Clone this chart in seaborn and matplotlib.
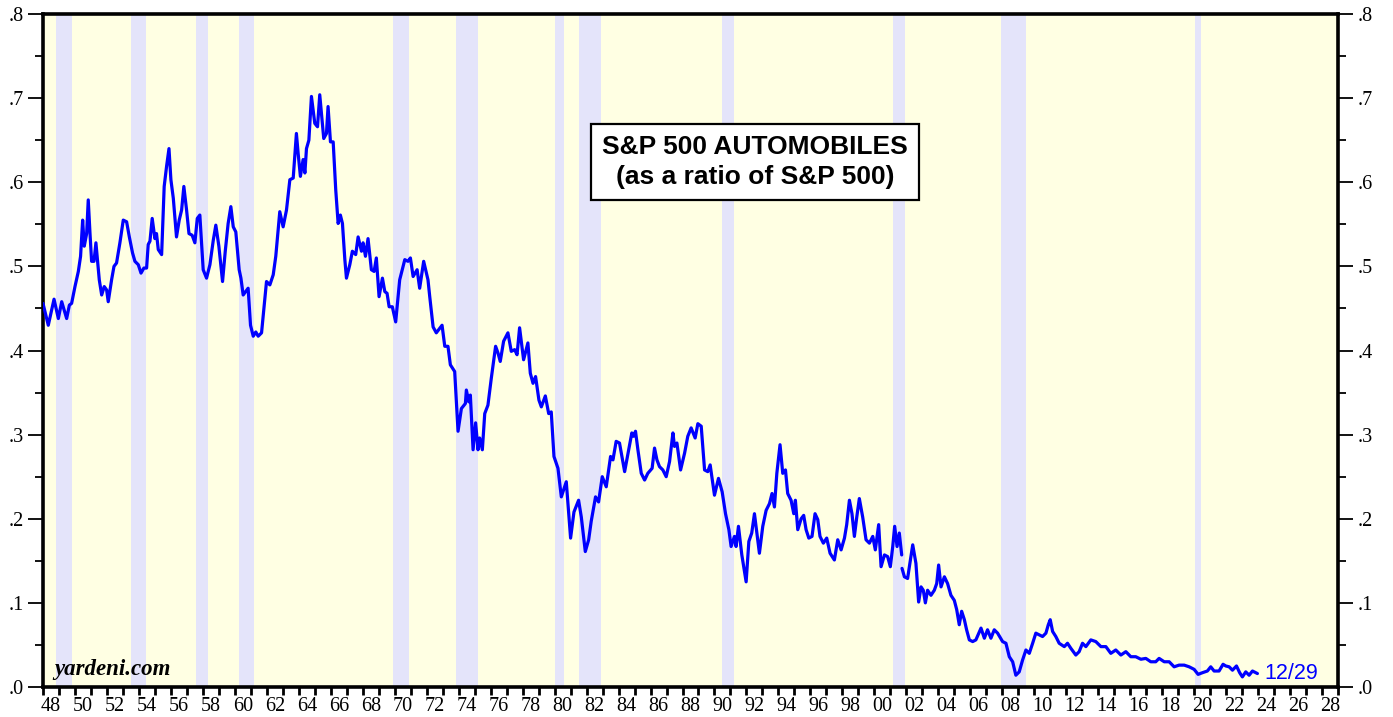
import numpy as np
import pandas as pd
import matplotlib
matplotlib.use('Agg')
import matplotlib.pyplot as plt
import seaborn as sns

# S&P 500 Automobiles / S&P 500 (decimal years)
year = [
    1948.00, 1948.33, 1948.54, 1948.69, 1948.96, 1949.17, 1949.48, 1949.65, 1949.79, 1950.00,
    1950.21, 1950.35, 1950.48, 1950.58, 1950.73, 1950.83, 1950.94, 1951.04, 1951.19, 1951.31,
    1951.52, 1951.67, 1951.83, 1951.98, 1952.08, 1952.29, 1952.44, 1952.60, 1952.81, 1953.02,
    1953.23, 1953.40, 1953.60, 1953.75, 1953.96, 1954.13, 1954.31, 1954.48, 1954.58, 1954.69,
    1954.83, 1955.00, 1955.10, 1955.21, 1955.42, 1955.58, 1955.73, 1955.88, 1956.00, 1956.15,
    1956.35, 1956.52, 1956.67, 1956.81, 1956.98, 1957.13, 1957.33, 1957.50, 1957.65, 1957.81,
    1958.02, 1958.23, 1958.44, 1958.65, 1958.81, 1959.00, 1959.23, 1959.40, 1959.58, 1959.75,
    1959.90, 1960.06, 1960.27, 1960.38, 1960.52, 1960.83, 1960.98, 1961.15, 1961.31, 1961.46,
    1961.67, 1961.81, 1961.98, 1962.19, 1962.40, 1962.56,
    1962.81, 1963.02, 1963.23, 1963.44, 1963.65, 1963.85, 1963.96, 1964.10, 1964.27, 1964.38,
    1964.48, 1964.63, 1964.79, 1965.00, 1965.17, 1965.31, 1965.56, 1965.73, 1965.83, 1965.98,
    1966.15, 1966.31, 1966.46, 1966.60, 1966.73, 1966.88, 1966.98, 1967.19, 1967.35, 1967.56,
    1967.71, 1967.92, 1968.02, 1968.17, 1968.33, 1968.54, 1968.71, 1968.85, 1969.02, 1969.23,
    1969.38, 1969.52, 1969.65, 1969.85, 1970.06, 1970.31, 1970.63, 1970.83, 1970.98, 1971.15,
    1971.40, 1971.56, 1971.81, 1972.08, 1972.19, 1972.40, 1972.60, 1972.96, 1973.13, 1973.33,
    1973.48, 1973.75, 1973.96, 1974.17, 1974.42, 1974.48, 1974.63, 1974.73, 1974.90, 1975.06,
    1975.21, 1975.31, 1975.48, 1975.63, 1975.83, 1976.04, 1976.31, 1976.46, 1976.60, 1976.81,
    1977.08, 1977.29, 1977.50, 1977.65,
    1977.81, 1978.06, 1978.33, 1978.48, 1978.65, 1978.81, 1979.02, 1979.17, 1979.42, 1979.63,
    1979.79, 1979.96, 1980.21, 1980.42, 1980.73, 1981.00, 1981.21, 1981.50, 1981.67, 1981.92,
    1982.13, 1982.29, 1982.56, 1982.75, 1982.98, 1983.23, 1983.50, 1983.65, 1983.85, 1984.06,
    1984.38, 1984.69, 1984.83, 1984.94, 1985.06, 1985.21, 1985.42, 1985.63, 1985.83, 1986.10,
    1986.25, 1986.40, 1986.56, 1986.77, 1986.98, 1987.19, 1987.40, 1987.50, 1987.65, 1987.88,
    1988.13, 1988.33, 1988.54, 1988.79, 1988.96, 1989.17, 1989.38, 1989.58, 1989.73, 1990.00,
    1990.25, 1990.48, 1990.69, 1990.90, 1991.04, 1991.25, 1991.35, 1991.50, 1991.71, 1991.98,
    1992.15, 1992.33, 1992.50, 1992.65,
    1992.81, 1993.02, 1993.23, 1993.44, 1993.60, 1993.75, 1993.90, 1994.10, 1994.27, 1994.44,
    1994.58, 1994.79, 1994.96, 1995.06, 1995.21, 1995.42, 1995.58, 1995.73, 1995.90, 1996.10,
    1996.29, 1996.46, 1996.60, 1996.81, 1997.02, 1997.23, 1997.50, 1997.71, 1997.92, 1998.13,
    1998.27, 1998.44, 1998.60, 1998.75, 1998.90, 1999.06, 1999.27, 1999.48, 1999.69, 1999.90,
    2000.06, 2000.27, 2000.42, 2000.63, 2000.83, 2001.00, 2001.15, 2001.27, 2001.42, 2001.56,
    2001.71, 2001.72,
    2001.73, 2001.88, 2002.08, 2002.19, 2002.40, 2002.60, 2002.77, 2002.92, 2003.06, 2003.19,
    2003.33, 2003.54, 2003.75, 2003.90, 2004.02, 2004.17, 2004.38, 2004.58, 2004.79, 2005.00,
    2005.15, 2005.31, 2005.46, 2005.63, 2005.77, 2005.94, 2006.15, 2006.35, 2006.67, 2006.88,
    2007.08, 2007.29, 2007.50, 2007.71,
    2008.02, 2008.23, 2008.44, 2008.65, 2008.85, 2009.06, 2009.27, 2009.48, 2009.69, 2009.90,
    2010.10, 2010.31, 2010.52, 2010.73, 2010.88, 2011.00, 2011.15, 2011.35, 2011.56, 2011.88,
    2012.08, 2012.29, 2012.60, 2012.81, 2013.02, 2013.23, 2013.54, 2013.85, 2014.17, 2014.48,
    2014.79, 2015.10, 2015.42, 2015.73, 2016.04, 2016.35, 2016.67, 2016.98, 2017.29, 2017.60,
    2017.81, 2018.13, 2018.44, 2018.75, 2019.06, 2019.38, 2019.69, 2020.00, 2020.25, 2020.52,
    2020.83, 2021.04, 2021.25, 2021.56, 2021.81, 2021.98, 2022.19, 2022.40, 2022.65, 2022.85,
    2023.02, 2023.23, 2023.44, 2023.65, 2023.96,
]
ratio = [
    0.456, 0.430, 0.448, 0.461, 0.438, 0.458, 0.438, 0.454, 0.456, 0.476,
    0.494, 0.512, 0.555, 0.524, 0.539, 0.579, 0.539, 0.506, 0.506, 0.528,
    0.484, 0.466, 0.476, 0.472, 0.458, 0.484, 0.500, 0.504, 0.528, 0.555,
    0.553, 0.535, 0.516, 0.506, 0.502, 0.492, 0.498, 0.498, 0.526, 0.530,
    0.557, 0.533, 0.539, 0.520, 0.514, 0.595, 0.619, 0.640, 0.603, 0.581,
    0.535, 0.555, 0.567, 0.595, 0.567, 0.539, 0.537, 0.528, 0.557, 0.561,
    0.496, 0.486, 0.502, 0.531, 0.549, 0.524, 0.482, 0.518, 0.551, 0.571,
    0.547, 0.541, 0.496, 0.486, 0.466, 0.474, 0.430, 0.417, 0.422, 0.417,
    0.421, 0.448, 0.482, 0.478, 0.490, 0.512,
    0.565, 0.547, 0.567, 0.603, 0.605, 0.658, 0.634, 0.607, 0.627, 0.611,
    0.640, 0.650, 0.702, 0.670, 0.666, 0.704, 0.652, 0.658, 0.690, 0.648,
    0.648, 0.591, 0.551, 0.561, 0.551, 0.508, 0.486, 0.502, 0.518, 0.514,
    0.535, 0.518, 0.528, 0.512, 0.533, 0.496, 0.494, 0.510, 0.464, 0.486,
    0.470, 0.468, 0.452, 0.452, 0.434, 0.484, 0.508, 0.506, 0.510, 0.488,
    0.496, 0.474, 0.506, 0.484, 0.464, 0.428, 0.421, 0.430, 0.405, 0.405,
    0.383, 0.375, 0.304, 0.331, 0.337, 0.353, 0.339, 0.347, 0.282, 0.314,
    0.282, 0.296, 0.282, 0.325, 0.335, 0.367, 0.405, 0.397, 0.387, 0.411,
    0.421, 0.399, 0.401, 0.395,
    0.427, 0.389, 0.409, 0.373, 0.361, 0.369, 0.341, 0.333, 0.346, 0.325,
    0.327, 0.274, 0.260, 0.226, 0.244, 0.177, 0.208, 0.222, 0.202, 0.161,
    0.175, 0.197, 0.226, 0.220, 0.250, 0.238, 0.274, 0.270, 0.292, 0.290,
    0.256, 0.288, 0.302, 0.298, 0.304, 0.282, 0.254, 0.246, 0.254, 0.260,
    0.284, 0.270, 0.262, 0.258, 0.250, 0.268, 0.302, 0.286, 0.290, 0.258,
    0.278, 0.298, 0.308, 0.296, 0.313, 0.310, 0.258, 0.256, 0.264, 0.228,
    0.248, 0.232, 0.206, 0.187, 0.167, 0.179, 0.167, 0.191, 0.157, 0.125,
    0.173, 0.183, 0.206, 0.183,
    0.159, 0.191, 0.210, 0.218, 0.230, 0.214, 0.254, 0.288, 0.254, 0.258,
    0.230, 0.222, 0.206, 0.222, 0.187, 0.200, 0.204, 0.187, 0.177, 0.179,
    0.206, 0.199, 0.179, 0.171, 0.177, 0.159, 0.151, 0.175, 0.163, 0.177,
    0.193, 0.222, 0.206, 0.179, 0.202, 0.224, 0.202, 0.175, 0.171, 0.179,
    0.163, 0.193, 0.143, 0.157, 0.155, 0.143, 0.167, 0.191, 0.167, 0.183,
    0.157, None,
    0.141, 0.131, 0.129, 0.143, 0.169, 0.147, 0.101, 0.119, 0.115, 0.100,
    0.115, 0.109, 0.115, 0.123, 0.145, 0.119, 0.131, 0.123, 0.109, 0.103,
    0.092, 0.074, 0.090, 0.080, 0.068, 0.056, 0.054, 0.056, 0.070, 0.058,
    0.068, 0.058, 0.068, 0.064,
    0.054, 0.052, 0.036, 0.030, 0.014, 0.018, 0.032, 0.044, 0.040, 0.052,
    0.064, 0.062, 0.060, 0.064, 0.074, 0.080, 0.066, 0.060, 0.052, 0.048,
    0.052, 0.046, 0.038, 0.042, 0.052, 0.048, 0.056, 0.054, 0.048, 0.048,
    0.040, 0.044, 0.038, 0.042, 0.036, 0.036, 0.033, 0.034, 0.030, 0.030,
    0.034, 0.030, 0.030, 0.024, 0.026, 0.026, 0.024, 0.021, 0.015, 0.017,
    0.019, 0.024, 0.019, 0.019, 0.027, 0.025, 0.024, 0.020, 0.025, 0.017,
    0.012, 0.018, 0.014, 0.019, 0.016,
]

# NBER recessions (start, end) in decimal years
rec_start = [1948.83, 1953.50, 1957.58, 1960.25, 1969.92, 1973.83, 1980.00, 1981.50, 1990.50, 2001.17, 2007.92, 2020.08]
rec_end   = [1949.79, 1954.42, 1958.29, 1961.17, 1970.92, 1975.21, 1980.58, 1982.92, 1991.25, 2001.92, 2009.50, 2020.42]

y_ticks = [0.0, 0.1, 0.2, 0.3, 0.4, 0.5, 0.6, 0.7, 0.8]
y_labels = ['.0', '.1', '.2', '.3', '.4', '.5', '.6', '.7', '.8']
x_label_years = list(range(1948, 2029, 2))

df = pd.DataFrame({'year': year, 'ratio': ratio})
df['ratio'] = pd.to_numeric(df['ratio'])
df['segment'] = df['ratio'].isna().cumsum()
df = df.dropna()

sns.set_style('white')
plt.rcParams['font.family'] = ['Liberation Serif', 'DejaVu Serif']
plt.rcParams['text.color'] = 'black'
plt.rcParams['xtick.color'] = 'black'
plt.rcParams['ytick.color'] = 'black'

fig = plt.figure(figsize=(13.93, 7.17), dpi=100)
ax = fig.add_axes([43 / 1393, 1 - 687 / 717, 1295 / 1393, 673 / 717])
ax.set_facecolor('#FFFFE3')

for s, e in zip(rec_start, rec_end):
    ax.axvspan(s, e, color='#E4E4FA', lw=0, zorder=0)

sns.lineplot(data=df, x='year', y='ratio', units='segment', estimator=None,
             color='#0000FF', linewidth=2.3, ax=ax, zorder=3)

ax.set_xlim(1948, 2029)
ax.set_ylim(0, 0.8)
ax.set_xlabel('')
ax.set_ylabel('')

# year boundary ticks, labels centred in each even year
ax.set_xticks(range(1948, 2030))
ax.set_xticklabels([''] * len(range(1948, 2030)))
ax.set_xticks([y + 0.5 for y in x_label_years], minor=True)
ax.set_xticklabels([f'{y % 100:02d}' for y in x_label_years], minor=True, fontsize=14.5)
ax.tick_params(axis='x', which='major', direction='out', length=5.5, width=2, bottom=True)
ax.tick_params(axis='x', which='minor', length=0, pad=7)

ax.set_yticks(y_ticks)
ax.set_yticklabels(y_labels, fontsize=14.5)
ax.set_yticks(np.arange(0.05, 0.8, 0.1), minor=True)
ax.tick_params(axis='y', which='major', direction='out', length=11, width=1.3,
               left=True, right=True, labelleft=True, labelright=True, pad=3)
ax.tick_params(axis='y', which='minor', direction='out', length=5.5, width=1.3,
               left=True, right=True)

for sp in ax.spines.values():
    sp.set_visible(True)
    sp.set_color('black')
    sp.set_linewidth(2.6)

ax.text(0.55, 0.78, 'S&P 500 AUTOMOBILES\n(as a ratio of S&P 500)',
        transform=ax.transAxes, ha='center', va='center', fontsize=19,
        fontweight='bold', family=['Liberation Sans', 'DejaVu Sans'], linespacing=1.35,
        bbox=dict(boxstyle='square,pad=0.42', facecolor='white', edgecolor='black', linewidth=1.6),
        zorder=5)

ax.text(0.009, 0.01, 'yardeni.com', transform=ax.transAxes, ha='left', va='bottom',
        fontsize=16.5, fontweight='bold', fontstyle='italic', zorder=5)

ax.text(2024.4, 0.016, '12/29', ha='left', va='center', color='#0000FF', fontsize=15.5,
        family=['Liberation Sans', 'DejaVu Sans'], zorder=5)

plt.savefig('out.png', dpi=100)
plt.close()
